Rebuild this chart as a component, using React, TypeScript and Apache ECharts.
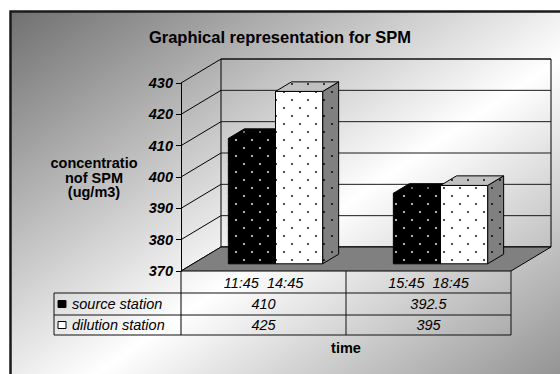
import React, { useEffect, useRef } from "react";
import * as echarts from "echarts";

// ---- data ----
const categories = ["11:45  14:45", "15:45  18:45"];
const seriesNames = ["source station", "dilution station"];
const sourceValues = [410, 392.5];
const dilutionValues = [425, 395];
const yTicks = [370, 380, 390, 400, 410, 420, 430];
const titleText = "Graphical representation for SPM";
const yAxisTitle = "concentratio\nnof SPM\n(ug/m3)";
const xAxisTitle = "time";

// ---- style constants ----
const FONT = '"Liberation Sans", Arial, Helvetica, sans-serif';
const FS = 14.5;
const DX = 40;
const DY = -24;
const F0 = 0.3;
const F1 = 0.7;
const Y_MIN = yTicks[0];
const Y_MAX = yTicks[yTicks.length - 1];
const ROW_H = [22, 22, 20];
const LEGEND_LEFT = 54;

function makePattern(bg: string, dot: string) {
  const size = 16;
  const c = document.createElement("canvas");
  c.width = size;
  c.height = size;
  const ctx = c.getContext("2d") as CanvasRenderingContext2D;
  ctx.fillStyle = bg;
  ctx.fillRect(0, 0, size, size);
  ctx.fillStyle = dot;
  [
    [4, 4],
    [12, 12],
  ].forEach(([x, y]) => {
    ctx.beginPath();
    ctx.arc(x, y, 0.95, 0, Math.PI * 2);
    ctx.fill();
  });
  return { image: c, repeat: "repeat", imageWidth: size, imageHeight: size };
}

export default function App() {
  const ref = useRef<HTMLDivElement>(null);

  useEffect(() => {
    if (!ref.current) return;
    const chart = echarts.init(ref.current, null, { renderer: "svg" });

    const fills = [
      {
        front: makePattern("#000000", "#ffffff"),
        top: makePattern("#000000", "#9a9a9a"),
        side: makePattern("#000000", "#9a9a9a"),
      },
      {
        front: makePattern("#ffffff", "#000000"),
        top: makePattern("#c0c0c0", "#000000"),
        side: makePattern("#808080", "#000000"),
      },
    ];

    const renderScene = (params: any, api: any) => {
      const cs = params.coordSys;
      const L = cs.x;
      const R = cs.x + cs.width;
      const T = cs.y;
      const B = cs.y + cs.height;
      const children: any[] = [];
      children.push({
        type: "rect",
        shape: { x: L + DX, y: T + DY, width: R - L, height: B - T },
        style: { fill: "none", stroke: "#000", lineWidth: 1 },
      });
      yTicks.forEach((v) => {
        const y = api.coord([0, v])[1];
        children.push({
          type: "line",
          shape: { x1: L + DX, y1: y + DY, x2: R + DX, y2: y + DY },
          style: { stroke: "#1a1a1a", lineWidth: 1 },
        });
        children.push({
          type: "line",
          shape: { x1: L, y1: y, x2: L + DX, y2: y + DY },
          style: { stroke: "#000", lineWidth: 1 },
        });
      });
      children.push({
        type: "polygon",
        shape: {
          points: [
            [L, B],
            [R, B],
            [R + DX, B + DY],
            [L + DX, B + DY],
          ],
        },
        style: { fill: "#808080", stroke: "#000", lineWidth: 1 },
      });
      // table frame
      const r1 = B + ROW_H[0];
      const r2 = r1 + ROW_H[1];
      const r3 = r2 + ROW_H[2];
      [r1, r2, r3].forEach((y) => {
        children.push({
          type: "line",
          shape: { x1: LEGEND_LEFT, y1: y, x2: R, y2: y },
          style: { stroke: "#111", lineWidth: 1 },
        });
      });
      children.push({
        type: "line",
        shape: { x1: LEGEND_LEFT, y1: r1, x2: LEGEND_LEFT, y2: r3 },
        style: { stroke: "#111", lineWidth: 1 },
      });
      children.push({
        type: "line",
        shape: { x1: L, y1: B, x2: L, y2: r3 },
        style: { stroke: "#000", lineWidth: 1 },
      });
      return { type: "group", children };
    };

    const makeBarRenderer = (side: number) => (params: any, api: any) => {
      const i = api.value(0);
      const v = api.value(1);
      const top = api.coord([i, v]);
      const base = api.coord([i, Y_MIN]);
      const band = api.size([1, 0])[0];
      const w = band / 3.5;
      const x0 = top[0] - w + side * w;
      const x1 = x0 + w;
      const ox = DX * F0;
      const oy = DY * F0;
      const bx = DX * F1;
      const by = DY * F1;
      const yt = top[1];
      const yb = base[1];
      const f = fills[side];
      return {
        type: "group",
        children: [
          {
            type: "polygon",
            shape: {
              points: [
                [x1 + ox, yt + oy],
                [x1 + bx, yt + by],
                [x1 + bx, yb + by],
                [x1 + ox, yb + oy],
              ],
            },
            style: { fill: f.side, stroke: "#000", lineWidth: 1 },
          },
          {
            type: "polygon",
            shape: {
              points: [
                [x0 + ox, yt + oy],
                [x1 + ox, yt + oy],
                [x1 + bx, yt + by],
                [x0 + bx, yt + by],
              ],
            },
            style: { fill: f.top, stroke: "#000", lineWidth: 1 },
          },
          {
            type: "rect",
            shape: { x: x0 + ox, y: yt + oy, width: w, height: yb - yt },
            style: { fill: f.front, stroke: "#000", lineWidth: 1 },
          },
        ],
      };
    };

    const renderTable = (params: any, api: any) => {
      const cs = params.coordSys;
      const B = cs.y + cs.height;
      const i = api.value(0);
      const cx = api.coord([i, Y_MIN])[0];
      const band = api.size([1, 0])[0];
      const xr = cx + band / 2;
      const r1 = B + ROW_H[0];
      const r2 = r1 + ROW_H[1];
      const r3 = r2 + ROW_H[2];
      const font = `italic ${FS}px ${FONT}`;
      return {
        type: "group",
        children: [
          {
            type: "line",
            shape: { x1: xr, y1: B, x2: xr, y2: r3 },
            style: { stroke: "#111", lineWidth: 1 },
          },
          {
            type: "text",
            style: {
              text: String(api.value(1)),
              x: cx,
              y: (r1 + r2) / 2,
              align: "center",
              verticalAlign: "middle",
              font,
              fill: "#000",
            },
          },
          {
            type: "text",
            style: {
              text: String(api.value(2)),
              x: cx,
              y: (r2 + r3) / 2,
              align: "center",
              verticalAlign: "middle",
              font,
              fill: "#000",
            },
          },
        ],
      };
    };

    const legendGraphics: any[] = [];
    seriesNames.forEach((name, k) => {
      const rowTop = 293 + k * 22;
      const cy = rowTop + (k === 0 ? 11 : 10);
      legendGraphics.push({
        type: "rect",
        shape: { x: 58, y: cy - 3.5, width: 8, height: 7 },
        style: { fill: k === 0 ? "#000" : "#fff", stroke: "#000", lineWidth: 1 },
      });
      legendGraphics.push({
        type: "text",
        x: 72,
        y: cy,
        style: {
          text: name,
          align: "left",
          verticalAlign: "middle",
          font: `italic ${FS}px ${FONT}`,
          fill: "#000",
        },
      });
    });

    chart.setOption({
      animation: false,
      title: {
        text: titleText,
        left: "center",
        top: 23,
        textStyle: {
          fontFamily: FONT,
          fontSize: 16.5,
          fontWeight: "bold",
          color: "#000",
        },
      },
      grid: { left: 181, top: 83, width: 330, height: 188 },
      xAxis: {
        type: "category",
        data: categories,
        axisLine: { show: false },
        axisTick: { show: false },
        splitLine: { show: false },
        axisLabel: {
          margin: 4,
          fontFamily: FONT,
          fontSize: FS,
          fontStyle: "italic",
          color: "#000",
        },
      },
      yAxis: {
        type: "value",
        min: Y_MIN,
        max: Y_MAX,
        interval: 10,
        axisLine: { show: true, lineStyle: { color: "#000", width: 1 } },
        axisTick: { show: true, length: 5, lineStyle: { color: "#000" } },
        splitLine: { show: false },
        axisLabel: {
          margin: 8,
          fontFamily: FONT,
          fontSize: FS,
          fontWeight: "bold",
          fontStyle: "italic",
          color: "#000",
        },
      },
      graphic: [
        {
          type: "rect",
          z: -100,
          shape: { x: 10.5, y: 11.5, width: 620, height: 420 },
          style: {
            fill: new echarts.graphic.LinearGradient(0, 0, 1, 1, [
              { offset: 0, color: "#707070" },
              { offset: 0.5, color: "#ffffff" },
              { offset: 1, color: "#707070" },
            ]),
            stroke: "#1a1a1a",
            lineWidth: 2.5,
          },
        },
        {
          type: "text",
          x: 94,
          y: 177.5,
          style: {
            text: yAxisTitle,
            align: "center",
            verticalAlign: "middle",
            font: `bold ${FS}px ${FONT}`,
            lineHeight: 14.5,
            fill: "#000",
          },
        },
        {
          type: "text",
          x: 346,
          y: 348,
          style: {
            text: xAxisTitle,
            align: "center",
            verticalAlign: "middle",
            font: `bold ${FS}px ${FONT}`,
            fill: "#000",
          },
        },
        ...legendGraphics,
      ],
      series: [
        {
          type: "custom",
          name: "scene",
          z: 1,
          silent: true,
          renderItem: renderScene,
          data: [[0, Y_MIN]],
        },
        {
          type: "custom",
          name: seriesNames[0],
          z: 2,
          renderItem: makeBarRenderer(0),
          data: categories.map((_, i) => [i, sourceValues[i]]),
        },
        {
          type: "custom",
          name: seriesNames[1],
          z: 3,
          renderItem: makeBarRenderer(1),
          data: categories.map((_, i) => [i, dilutionValues[i]]),
        },
        {
          type: "custom",
          name: "table",
          z: 3,
          silent: true,
          renderItem: renderTable,
          encode: { x: 0, y: 1 },
          data: categories.map((_, i) => [i, sourceValues[i], dilutionValues[i]]),
        },
      ],
    });

    return () => {
      chart.dispose();
    };
  }, []);

  return (
    <div
      ref={ref}
      style={{
        position: "fixed",
        left: 0,
        top: 0,
        width: 560,
        height: 374,
        background: "#fff",
      }}
    />
  );
}
